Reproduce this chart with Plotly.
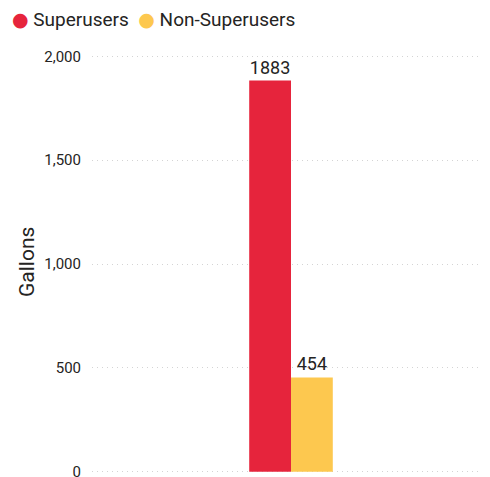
import plotly.graph_objects as go

categories = ["Usage"]
series_names = ["Superusers", "Non-Superusers"]
superusers = [1883]
non_superusers = [454]
colors = ["#E6243C", "#FDC84F"]
y_ticks = [0, 500, 1000, 1500, 2000]
y_tick_labels = ["0", "500", "1,000", "1,500", "2,000"]
y_title = "Gallons"

font_family = "Roboto, DejaVu Sans, sans-serif"
text_color = "#252423"

fig = go.Figure()
for name, vals, col in zip(series_names, [superusers, non_superusers], colors):
    fig.add_trace(go.Bar(
        x=categories, y=vals, name=name, marker_color=col, marker_line_width=0,
        text=[str(v) for v in vals], textposition="outside", cliponaxis=False,
        textfont=dict(size=18, color=text_color, family=font_family),
        showlegend=False,
    ))

legend_text = "  ".join(
    f"<span style='color:{c}'>●</span> {n}" for n, c in zip(series_names, colors)
)
fig.add_annotation(
    text=legend_text, xref="paper", yref="paper", x=-0.206, y=1.086,
    xanchor="left", yanchor="middle",
    showarrow=False, font=dict(size=19, color=text_color, family=font_family),
)
fig.add_annotation(
    text=y_title, xref="paper", yref="paper", x=-0.163, y=0.505,
    xanchor="center", yanchor="middle", textangle=-90,
    showarrow=False, font=dict(size=21, color=text_color, family=font_family),
)

fig.update_layout(
    width=490, height=477,
    margin=dict(l=84, r=8, t=47, b=12, autoexpand=False),
    plot_bgcolor="white", paper_bgcolor="white",
    barmode="group", bargap=0.79, bargroupgap=0,
    font=dict(family=font_family, color=text_color),
    showlegend=False,
    xaxis=dict(showticklabels=False, showgrid=False, zeroline=False, showline=False,
               automargin=False),
    yaxis=dict(
        range=[-6, 2006], tickvals=y_ticks, ticktext=y_tick_labels, automargin=False,
        showgrid=True, gridcolor="#D4D4D4", griddash="1px,4px", gridwidth=1,
        zeroline=False, showline=False, ticks="", ticklabelstandoff=10,
        tickfont=dict(size=15, color=text_color),
    ),
)

fig.write_html("out.html")
